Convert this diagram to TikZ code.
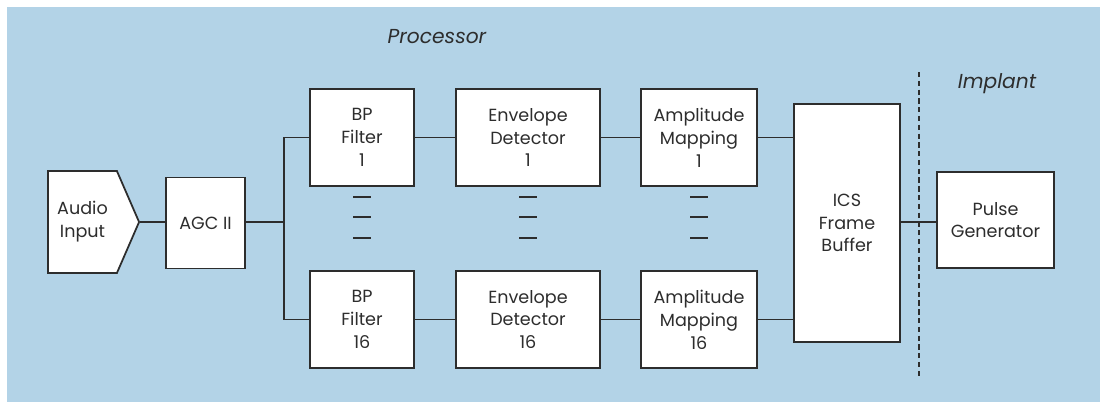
\documentclass[tikz,border=0pt]{standalone}
\usepackage{fontspec}
\setmainfont{Poppins}
\usetikzlibrary{
	calc,
	positioning,
	shapes.symbols,
}
\definecolor{panelblue}{RGB}{179,211,231}
\definecolor{inkgray}{RGB}{45,45,45}
\tikzset{block node/.style={
	draw=inkgray,
	rectangle,
	fill=white,
	inner sep=0mm,
	align=center,
	line width=1pt,
	text=inkgray,
	font=\fontsize{10}{13}\selectfont,
}}
\tikzset{wire/.style={
	draw=inkgray,
	line width=1pt,
}}
\tikzset{stage label/.style={
	text=inkgray,
	font=\fontsize{11.5}{13}\selectfont\itshape,
}}

\begin{document}
\begin{tikzpicture}[every node/.style={block node}]

\useasboundingbox (0,0) rectangle (22,-8.04);
\fill[panelblue] (0.14,-0.14) rectangle (22,-8.04);

\node[draw=none, fill=none, stage label](proc) at (8.74,-0.74) {Processor};
\node[draw=none, fill=none, stage label](impl) at (19.94,-1.68) {Implant};

\node[shape=signal, signal to=east, signal pointer angle=133,
	minimum width=1.82cm, minimum height=2.04cm](audio) at (1.65,-4.44) {Audio\\Input};
\node[minimum width=1.58cm, minimum height=1.82cm](agc) at (4.11,-4.46) {AGC II};

\node[minimum width=2.08cm, minimum height=1.94cm](bp1) 	at (7.24,-2.75) {BP\\Filter\\1};
\node[minimum width=2.08cm, minimum height=1.94cm](bp16) 	at (7.24,-6.39) {BP\\Filter\\16};
\node[minimum width=2.88cm, minimum height=1.94cm](env1) 	at (10.56,-2.75) {Envelope\\Detector\\1};
\node[minimum width=2.88cm, minimum height=1.94cm](env16) 	at (10.56,-6.39) {Envelope\\Detector\\16};
\node[minimum width=2.32cm, minimum height=1.94cm](amp1) 	at (13.98,-2.75) {Amplitude\\Mapping\\1};
\node[minimum width=2.32cm, minimum height=1.94cm](amp16) 	at (13.98,-6.39) {Amplitude\\Mapping\\16};

\node[minimum width=2.12cm, minimum height=4.76cm](ics) at (16.94,-4.46) {ICS\\Frame\\Buffer};
\node[minimum width=2.34cm, minimum height=1.92cm](pulse) at (19.91,-4.40) {Pulse\\Generator};

\coordinate(split) at (5.68,-4.44);

% input -> AGC
\draw[wire] (audio.east) -- (audio.east -| agc.west);
\draw[wire] (audio.east -| agc.east) -- (split);

% AGC -> filter bank
\draw[wire] (bp1.west) -| (split) |- (bp16.west);

% channels
\draw[wire] (bp1) -- (env1) -- (amp1);
\draw[wire] (bp16) -- (env16) -- (amp16);
\draw[wire] (amp1.east) -- (amp1.east -| ics.west);
\draw[wire] (amp16.east) -- (amp16.east -| ics.west);

% processor | implant
\draw[wire, line width=0.7pt, dash pattern=on 3pt off 2pt] (18.38,-1.44) -- (18.38,-7.56);
\draw[wire] (ics.east |- audio.east) -- (pulse.west |- audio.east);

% dots between channels
\foreach \col in {bp1,env1,amp1}
	\foreach \y in {-3.94,-4.34,-4.76}
		\draw[wire] ($(\col.center |- 0,\y)+(-0.18,0)$) -- ++(0.36,0);

\end{tikzpicture}
\end{document}
